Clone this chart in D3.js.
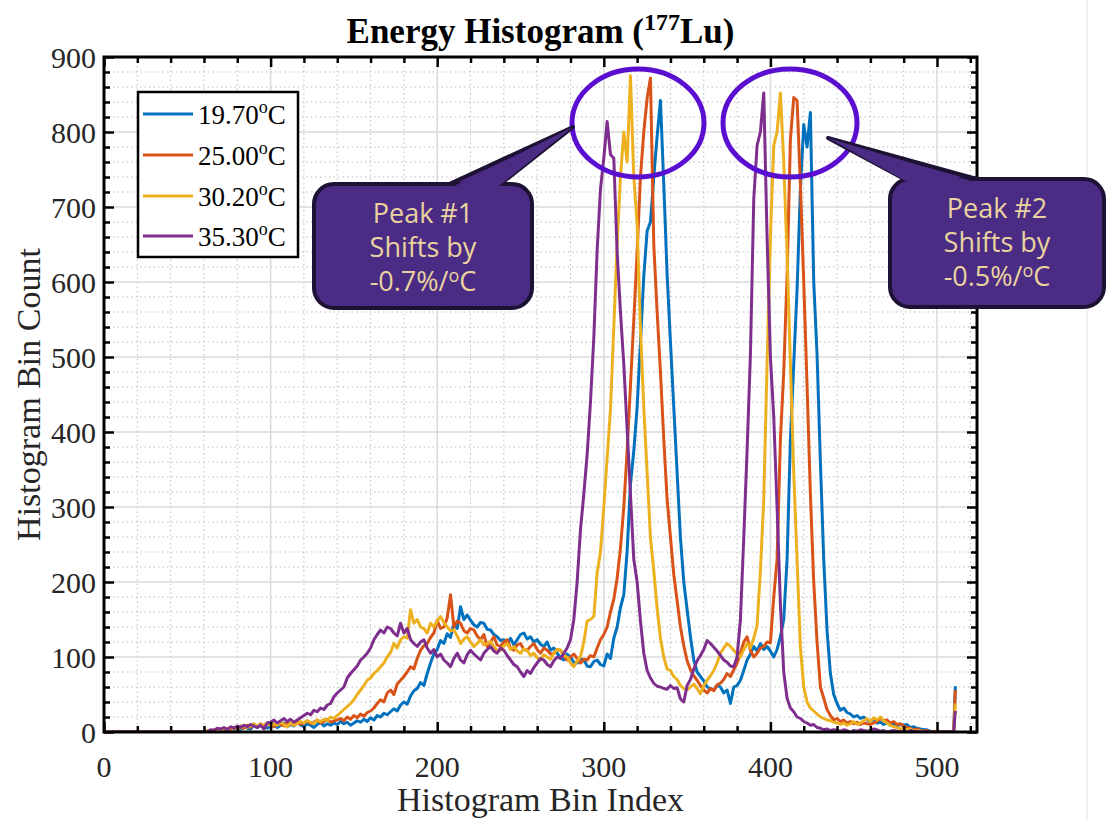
<!DOCTYPE html>
<meta charset="utf-8">
<script src="https://d3js.org/d3.v7.min.js"></script>
<style>
  body { margin: 0; background: #fff; }
</style>
<svg id="chart" width="1108" height="821"></svg>
<script>
// Histogram bin index: every 2nd bin, plus the last bin (511)
const bins = d3.range(0, 512, 2).concat([511]);

const seriesNames = ["19.70", "25.00", "30.20", "35.30"];
const seriesColors = ["#0072BD", "#D95319", "#EDB120", "#7E2F8E"];

const blue = [
  0,0,0,0,0,0,0,0,0,0, 0,0,0,0,0,0,0,0,0,0, 0,0,0,0,0,0,0,0,0,0,
  0,0,2,0,3,1,4,2,5,3,
  6,3,8,5,4,9,6,10,7,5,
  8,11,6,9,12,7,10,8,13,9,
  7,11,9,6,10,13,8,11,9,12,
  10,14,11,13,9,12,15,13,17,14,
  19,16,22,20,25,23,27,31,28,36,
  40,37,48,55,58,66,62,78,92,104,
  110,122,118,131,126,145,138,167,150,156,
  149,143,140,146,145,137,136,130,127,122,
  123,118,125,116,123,130,132,124,127,120,
  123,117,114,120,109,112,105,99,96,104,
  100,93,92,98,96,88,87,94,96,90,
  88,104,98,125,140,166,183,241,330,375,
  433,520,608,668,680,740,794,842,730,610,
  520,433,346,259,200,163,127,96,80,74,
  68,60,58,56,62,60,52,56,38,60,
  62,69,82,96,104,114,108,118,110,114,
  108,100,110,127,150,230,390,490,590,724,
  810,780,826,600,503,360,230,135,78,50,
  38,29,32,26,24,20,22,18,20,16,
  14,17,12,13,10,12,9,12,8,10,
  9,10,6,7,5,4,3,3,1,0,
  0,0,0,0,0,0,61
];

const orange = [
  0,0,0,0,0,0,0,0,0,0, 0,0,0,0,0,0,0,0,0,0, 0,0,0,0,0,0,0,0,0,0,
  0,1,0,3,2,4,1,5,3,6,
  4,8,5,9,6,10,7,11,8,12,
  9,7,12,10,8,13,11,9,14,10,
  12,15,11,13,16,12,14,17,13,15,
  16,18,15,20,17,22,19,24,21,26,
  28,32,38,43,40,52,56,50,64,69,
  74,80,87,84,98,109,115,118,126,132,
  149,138,140,152,183,140,148,145,135,132,
  138,136,128,123,130,114,120,127,116,114,
  120,123,112,109,116,118,110,109,114,118,
  110,105,112,109,104,105,110,109,102,96,
  100,104,98,92,97,96,102,100,112,123,
  130,140,160,177,205,245,300,375,462,549,
  640,740,800,845,872,650,560,480,390,310,
  260,210,175,140,115,95,83,75,69,62,
  56,52,58,55,63,65,70,78,74,83,
  92,105,120,127,109,100,105,112,114,120,
  119,180,230,390,480,608,790,846,842,730,
  600,462,317,200,120,60,45,30,22,16,
  18,14,16,12,14,11,13,10,12,11,
  10,12,14,18,15,16,12,14,10,11,
  8,6,5,3,4,2,1,2,0,1,
  0,0,0,0,0,0,56
];

const yellow = [
  0,0,0,0,0,0,0,0,0,0, 0,0,0,0,0,0,0,0,0,0, 0,0,0,0,0,0,0,0,0,0,
  0,2,1,0,3,2,5,3,6,4,
  7,5,9,6,8,11,7,10,9,12,
  8,11,9,13,10,7,12,9,11,14,
  12,15,13,11,16,14,17,15,20,18,
  22,26,30,34,38,43,50,56,62,69,
  72,78,82,87,92,100,106,118,112,123,
  127,125,163,145,150,140,138,132,145,140,
  148,154,146,140,135,136,128,118,124,127,
  120,114,118,123,116,118,121,114,108,109,
  115,118,110,114,108,105,111,109,102,105,
  99,96,103,100,97,105,110,109,102,100,
  92,87,95,100,120,148,150,154,212,240,
  300,365,430,540,650,740,800,760,875,740,
  677,538,433,346,259,215,165,125,100,84,
  82,74,70,62,58,56,60,64,58,51,
  62,69,75,82,92,105,112,118,114,109,
  104,100,110,118,112,125,142,215,310,491,
  660,782,800,852,760,637,491,346,230,113,
  60,40,32,28,24,20,18,16,15,13,
  12,10,12,9,11,14,10,12,15,18,
  14,19,16,20,15,12,9,7,6,4,
  5,3,4,2,1,2,0,1,0,0,
  0,0,0,0,0,0,38
];

const purple = [
  0,0,0,0,0,0,0,0,0,0, 0,0,0,0,0,0,0,0,0,0, 0,0,0,0,0,0,0,0,0,0,
  0,0,3,2,5,4,6,3,7,5,
  8,6,9,7,10,8,6,9,4,12,
  13,16,12,15,18,14,17,13,16,19,
  22,25,23,29,27,32,30,36,38,47,
  52,56,60,72,78,83,88,96,100,105,
  112,123,130,136,132,140,138,132,128,145,
  132,138,123,118,114,120,123,112,105,110,
  100,104,96,92,87,98,105,96,92,103,
  109,104,100,96,105,110,114,108,105,112,
  109,102,96,90,87,80,74,82,78,86,
  92,98,96,90,87,95,100,98,105,112,
  123,150,200,270,317,370,440,526,642,724,
  765,814,770,765,640,560,490,404,317,230,
  200,148,105,82,72,65,61,60,58,57,
  62,58,59,44,40,62,70,84,95,102,
  110,122,118,113,108,102,96,93,88,87,
  100,150,259,375,503,710,782,800,852,660,
  500,420,300,170,80,45,32,27,20,18,
  14,12,9,10,6,5,3,4,2,3,
  2,1,3,2,0,2,1,3,2,1,
  2,4,3,1,2,0,1,2,1,0,
  1,0,2,1,0,1,0,1,0,0,
  0,0,0,0,0,0,28
];

const allSeries = [blue, orange, yellow, purple];

const xTicks = [0, 100, 200, 300, 400, 500];
const yTicks = [0, 100, 200, 300, 400, 500, 600, 700, 800, 900];

const callouts = [
  { lines: ["Peak #1", "Shifts by", "-0.7%/", "C"] },
  { lines: ["Peak #2", "Shifts by", "-0.5%/", "C"] }
];

// ---- layout
const svg = d3.select("#chart");
const pLeft = 104, pRight = 977, pTop = 57, pBottom = 732;

const x = d3.scaleLinear().domain([0, 524]).range([pLeft, pRight]);
const y = d3.scaleLinear().domain([0, 900]).range([pBottom, pTop]);

const serif = "'Liberation Serif', 'Times New Roman', serif";

// faint slide edge on the right
svg.append("line")
  .attr("x1", 1087).attr("x2", 1087).attr("y1", 0).attr("y2", 821)
  .attr("stroke", "#ececec").attr("stroke-width", 1.5);

// grids
const xMinor = d3.range(0, 525, 20).filter(d => d % 100 !== 0);
const yMinor = d3.range(0, 901, 20).filter(d => d % 100 !== 0);

const grid = svg.append("g");
grid.selectAll(".xm").data(xMinor).join("line")
  .attr("x1", d => x(d)).attr("x2", d => x(d)).attr("y1", pTop).attr("y2", pBottom)
  .attr("stroke", "#bdbdbd").attr("stroke-width", 1).attr("stroke-dasharray", "1.5,3");
grid.selectAll(".ym").data(yMinor).join("line")
  .attr("x1", pLeft).attr("x2", pRight).attr("y1", d => y(d)).attr("y2", d => y(d))
  .attr("stroke", "#bdbdbd").attr("stroke-width", 1).attr("stroke-dasharray", "1.5,3");
grid.selectAll(".xM").data(xTicks).join("line")
  .attr("x1", d => x(d)).attr("x2", d => x(d)).attr("y1", pTop).attr("y2", pBottom)
  .attr("stroke", "#dadada").attr("stroke-width", 1.5);
grid.selectAll(".yM").data(yTicks).join("line")
  .attr("x1", pLeft).attr("x2", pRight).attr("y1", d => y(d)).attr("y2", d => y(d))
  .attr("stroke", "#dadada").attr("stroke-width", 1.5);

// data lines
svg.append("clipPath").attr("id", "clip")
  .append("rect").attr("x", pLeft).attr("y", pTop - 2).attr("width", pRight - pLeft).attr("height", pBottom - pTop + 2);

const line = d3.line()
  .x((d, i) => x(bins[i]))
  .y(d => y(d));

svg.append("g").attr("clip-path", "url(#clip)")
  .selectAll("path").data(allSeries).join("path")
  .attr("d", line)
  .attr("fill", "none")
  .attr("stroke", (d, i) => seriesColors[i])
  .attr("stroke-width", 3)
  .attr("stroke-linejoin", "round");

// axes (box with inward ticks)
function tickAxes(axisFn, scale, values, len, transform) {
  svg.append("g").attr("transform", transform)
    .call(axisFn(scale).tickValues(values).tickSize(len).tickFormat(""))
    .call(g => g.select(".domain").remove())
    .call(g => g.selectAll(".tick line").attr("stroke", "#000").attr("stroke-width", 2.5));
}
tickAxes(d3.axisTop, x, xMinor, 6, `translate(0,${pBottom})`);
tickAxes(d3.axisTop, x, xTicks, 10, `translate(0,${pBottom})`);
tickAxes(d3.axisBottom, x, xMinor, 6, `translate(0,${pTop})`);
tickAxes(d3.axisBottom, x, xTicks, 10, `translate(0,${pTop})`);
tickAxes(d3.axisRight, y, yMinor, 6, `translate(${pLeft},0)`);
tickAxes(d3.axisRight, y, yTicks, 10, `translate(${pLeft},0)`);
tickAxes(d3.axisLeft, y, yMinor, 6, `translate(${pRight},0)`);
tickAxes(d3.axisLeft, y, yTicks, 10, `translate(${pRight},0)`);

svg.append("rect")
  .attr("x", pLeft).attr("y", pTop).attr("width", pRight - pLeft).attr("height", pBottom - pTop)
  .attr("fill", "none").attr("stroke", "#000").attr("stroke-width", 3);

// tick labels
svg.append("g").selectAll("text").data(xTicks).join("text")
  .attr("x", d => x(d)).attr("y", 777)
  .attr("text-anchor", "middle")
  .attr("font-family", serif).attr("font-size", 30).attr("fill", "#262626")
  .text(d => d);
svg.append("g").selectAll("text").data(yTicks).join("text")
  .attr("x", 96).attr("y", d => y(d)).attr("dy", "0.35em")
  .attr("text-anchor", "end")
  .attr("font-family", serif).attr("font-size", 30).attr("fill", "#262626")
  .text(d => d);

// axis titles
svg.append("text")
  .attr("x", (pLeft + pRight) / 2).attr("y", 811)
  .attr("text-anchor", "middle")
  .attr("font-family", serif).attr("font-size", 34).attr("fill", "#262626")
  .text("Histogram Bin Index");
svg.append("text")
  .attr("transform", `translate(40,${(pTop + pBottom) / 2}) rotate(-90)`)
  .attr("text-anchor", "middle")
  .attr("font-family", serif).attr("font-size", 34).attr("fill", "#262626")
  .text("Histogram Bin Count");

// title
const title = svg.append("text")
  .attr("x", (pLeft + pRight) / 2).attr("y", 43)
  .attr("text-anchor", "middle")
  .attr("font-family", serif).attr("font-size", 35).attr("font-weight", "bold");
title.append("tspan").text("Energy Histogram (");
title.append("tspan").attr("dy", -13).attr("font-size", 24).text("177");
title.append("tspan").attr("dy", 13).text("Lu)");

// legend
const lg = svg.append("g");
lg.append("rect")
  .attr("x", 138).attr("y", 92).attr("width", 160).attr("height", 165)
  .attr("fill", "#fff").attr("stroke", "#000").attr("stroke-width", 2.5);
const legendY = [114, 155, 196, 236];
seriesNames.forEach((name, i) => {
  lg.append("line")
    .attr("x1", 143).attr("x2", 193).attr("y1", legendY[i]).attr("y2", legendY[i])
    .attr("stroke", seriesColors[i]).attr("stroke-width", 3);
  const t = lg.append("text")
    .attr("x", 198).attr("y", legendY[i] + 10)
    .attr("font-family", serif).attr("font-size", 27).attr("fill", "#000");
  t.append("tspan").text(name);
  t.append("tspan").attr("dy", -11).attr("font-size", 18).text("o");
  t.append("tspan").attr("dy", 11).text("C");
});

// ellipses around the peaks
const ellipses = [
  { cx: 638, cy: 123, rx: 66, ry: 54 },
  { cx: 790, cy: 123, rx: 67, ry: 54 }
];
svg.append("g").selectAll("ellipse").data(ellipses).join("ellipse")
  .attr("cx", d => d.cx).attr("cy", d => d.cy).attr("rx", d => d.rx).attr("ry", d => d.ry)
  .attr("fill", "none").attr("stroke", "#5a0fd0").attr("stroke-width", 5);

// callouts
const boxes = [
  { x: 314, y: 184, w: 218, h: 124, tail: [[445, 186], [573, 127], [498, 186]], cx: 423 },
  { x: 890, y: 179, w: 214, h: 128, tail: [[908, 181], [828, 138], [984, 181]], cx: 997 }
];
const fill = "#4b2c85", edge = "#1d1233", txt = "#ead39f";
boxes.forEach((b, k) => {
  const g = svg.append("g");
  g.append("path").attr("d", d3.line()(b.tail))
    .attr("fill", fill).attr("stroke", edge).attr("stroke-width", 4).attr("stroke-linejoin", "round");
  g.append("rect")
    .attr("x", b.x).attr("y", b.y).attr("width", b.w).attr("height", b.h)
    .attr("rx", 20).attr("fill", fill).attr("stroke", edge).attr("stroke-width", 4);
  const inner = b.tail.map(p => [p[0], p[1]]);
  inner[0] = [b.tail[0][0] + 3, b.y + 5];
  inner[2] = [b.tail[2][0] - 3, b.y + 5];
  g.append("path").attr("d", d3.line()(inner)).attr("fill", fill);

  const lines = callouts[k].lines;
  const ly = [b.y + 39, b.y + 73, b.y + 107];
  const font = "'Open Sans', 'Noto Sans', sans-serif";
  g.append("text").attr("x", b.cx).attr("y", ly[0]).attr("text-anchor", "middle")
    .attr("font-family", font).attr("font-size", 27).attr("fill", txt)
    .text(lines[0]);
  g.append("text").attr("x", b.cx).attr("y", ly[1]).attr("text-anchor", "middle")
    .attr("font-family", font).attr("font-size", 27).attr("fill", txt)
    .text(lines[1]);
  const t3 = g.append("text").attr("x", b.cx).attr("y", ly[2]).attr("text-anchor", "middle")
    .attr("font-family", font).attr("font-size", 27).attr("fill", txt);
  t3.append("tspan").text(lines[2]);
  t3.append("tspan").attr("dy", -9).attr("font-size", 18).text("o");
  t3.append("tspan").attr("dy", 9).text(lines[3]);
});
</script>
